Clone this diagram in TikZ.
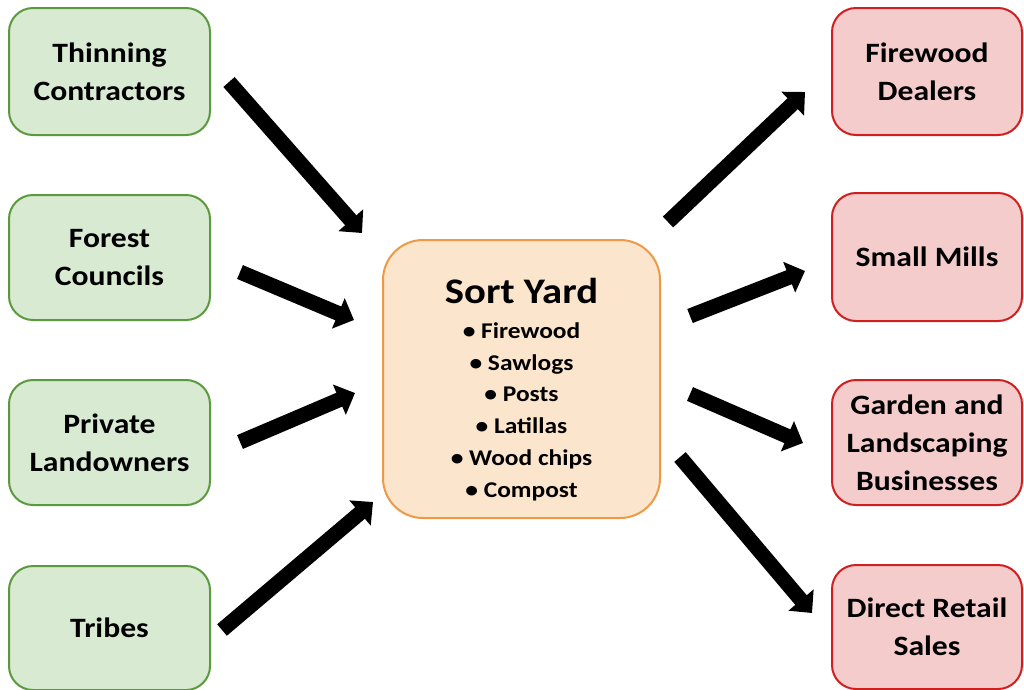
\documentclass[tikz,border=0pt]{standalone}
\usepackage{fontspec}
\setmainfont{Carlito}[FakeStretch=1.13]
\usetikzlibrary{arrows.meta}
\definecolor{gfill}{HTML}{D9EAD3}
\definecolor{gline}{HTML}{5B9A3C}
\definecolor{ofill}{HTML}{FCE5CD}
\definecolor{oline}{HTML}{EC9A45}
\definecolor{rfill}{HTML}{F4CCCC}
\definecolor{rline}{HTML}{D01F1F}
\tikzset{
  srcbox/.style={draw=gline, fill=gfill, line width=2pt, rounded corners=24pt,
    minimum width=201pt, align=center, font=\fontsize{28}{38}\selectfont\bfseries},
  dstbox/.style={draw=rline, fill=rfill, line width=2pt, rounded corners=24pt,
    minimum width=190pt, align=center, font=\fontsize{28}{38}\selectfont\bfseries},
  hubbox/.style={draw=oline, fill=ofill, line width=2pt, rounded corners=40pt,
    minimum width=277pt, minimum height=278pt, align=center},
  flow/.style={line width=15pt, -{Triangle[length=17pt,width=32pt]}}
}
\begin{document}
\begin{tikzpicture}[x=1pt,y=-1pt]
\useasboundingbox (0,0) rectangle (1024,689);
% source boxes
\node[srcbox, minimum height=127pt] (thin) at (109.5,71.5) {Thinning\\Contractors};
\node[srcbox, minimum height=125pt] (forest) at (109.5,257.5) {Forest\\Councils};
\node[srcbox, minimum height=125pt] (priv) at (109.5,442.5) {Private\\Landowners};
\node[srcbox, minimum height=124pt] (tribes) at (109.5,628) {Tribes};
% destination boxes
\node[dstbox, minimum height=127pt] (fire) at (927,71.5) {Firewood\\Dealers};
\node[dstbox, minimum height=128pt] (mills) at (927,257) {Small Mills};
\node[dstbox, minimum height=125pt] (garden) at (927,442.5) {Garden and\\Landscaping\\Businesses};
\node[dstbox, minimum height=124pt] (retail) at (927,627) {Direct Retail\\Sales};
% hub
\node[hubbox] (sort) at (521.5,379) {};
\node[align=center, font=\bfseries\fontsize{22.5}{31.8}\selectfont] (sorttext) at (521.5,389.5)
  {\fontsize{36}{36}\selectfont Sort Yard\\[3pt]
   \fontsize{22.5}{31.8}\selectfont • Firewood\\ • Sawlogs\\ • Posts\\ • Latillas\\ • Wood chips\\ • Compost};
% arrow end points
\coordinate (a1s) at (229,82);  \coordinate (a1e) at (362,233);
\coordinate (a2s) at (240,272); \coordinate (a2e) at (354,320);
\coordinate (a3s) at (240,442); \coordinate (a3e) at (355,393);
\coordinate (a4s) at (222,630); \coordinate (a4e) at (373,502);
\coordinate (b1s) at (668,222); \coordinate (b1e) at (805,92);
\coordinate (b2s) at (690,316); \coordinate (b2e) at (805,271);
\coordinate (b3s) at (690,394); \coordinate (b3e) at (803,443);
\coordinate (b4s) at (680,457); \coordinate (b4e) at (812,613);
\draw[flow] (a1s) -- (a1e);
\draw[flow] (a2s) -- (a2e);
\draw[flow] (a3s) -- (a3e);
\draw[flow] (a4s) -- (a4e);
\draw[flow] (b1s) -- (b1e);
\draw[flow] (b2s) -- (b2e);
\draw[flow] (b3s) -- (b3e);
\draw[flow] (b4s) -- (b4e);
\end{tikzpicture}
\end{document}
